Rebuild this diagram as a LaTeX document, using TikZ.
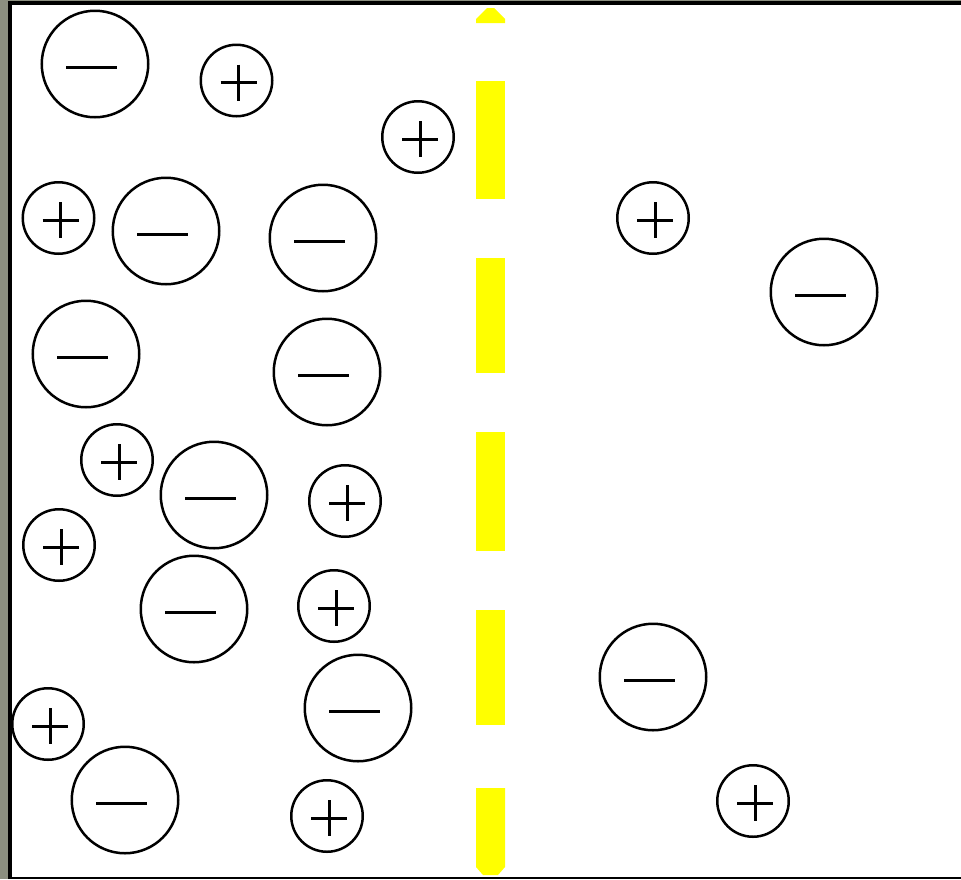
\documentclass[tikz,border=0pt]{standalone}
\usetikzlibrary{calc}
\definecolor{bggrey}{RGB}{140,143,128}
\definecolor{memyellow}{RGB}{255,255,0}
\begin{document}
\begin{tikzpicture}[x=1pt,y=-1pt,
  anion/.style={circle, draw=black, line width=2.5pt, inner sep=0pt, minimum size=106.5pt,
    path picture={\draw[line width=3pt] ([xshift=-29pt,yshift=-3.5pt]path picture bounding box.center) -- ([xshift=22pt,yshift=-3.5pt]path picture bounding box.center);}},
  cation/.style={circle, draw=black, line width=2.5pt, inner sep=0pt, minimum size=71.5pt,
    path picture={\draw[line width=3pt] ([xshift=-16pt,yshift=-2pt]path picture bounding box.center) -- ([xshift=20pt,yshift=-2pt]path picture bounding box.center);
                  \draw[line width=3pt] ([xshift=2pt,yshift=16pt]path picture bounding box.center) -- ([xshift=2pt,yshift=-20pt]path picture bounding box.center);}},
  membrane/.style={fill=memyellow}
]
\fill[bggrey] (0,0) rectangle (961,879);
\useasboundingbox (0,0) rectangle (961,879);
\fill[black] (8,1) rectangle (961,879);
\fill[white] (12,5) rectangle (961,877);

% membrane
\fill[membrane] (487,8) -- (494,8) -- (505,19) -- (505,23) -- (476,23) -- (476,19) -- cycle;
\fill[membrane] (476,81) rectangle (505,199);
\fill[membrane] (476,258) rectangle (505,373);
\fill[membrane] (476,432) rectangle (505,551);
\fill[membrane] (476,610) rectangle (505,725);
\fill[membrane] (476,788) -- (505,788) -- (505,867) -- (498,875) -- (483,875) -- (476,867) -- cycle;

% negative ions
\node[anion] (m1)  at (95,64)   {};
\node[anion] (m2)  at (166,231) {};
\node[anion] (m3)  at (323,238) {};
\node[anion] (m4)  at (86,354)  {};
\node[anion] (m5)  at (327,372) {};
\node[anion] (m6)  at (214,495) {};
\node[anion] (m7)  at (194,609) {};
\node[anion] (m8)  at (358,708) {};
\node[anion] (m9)  at (125,800) {};
\node[anion] (m10) at (824,292) {};
\node[anion] (m11) at (653,677) {};

% positive ions
\node[cation] (p1)  at (236.5,80.5) {};
\node[cation] (p2)  at (418,137)  {};
\node[cation] (p3)  at (58.5,218) {};
\node[cation] (p4)  at (117,460)  {};
\node[cation] (p5)  at (345,501)  {};
\node[cation] (p6)  at (59,545)   {};
\node[cation] (p7)  at (334,606)  {};
\node[cation] (p8)  at (48,724)   {};
\node[cation] (p9)  at (327,816)  {};
\node[cation] (p10) at (653,218)  {};
\node[cation] (p11) at (753,801)  {};
\end{tikzpicture}
\end{document}
